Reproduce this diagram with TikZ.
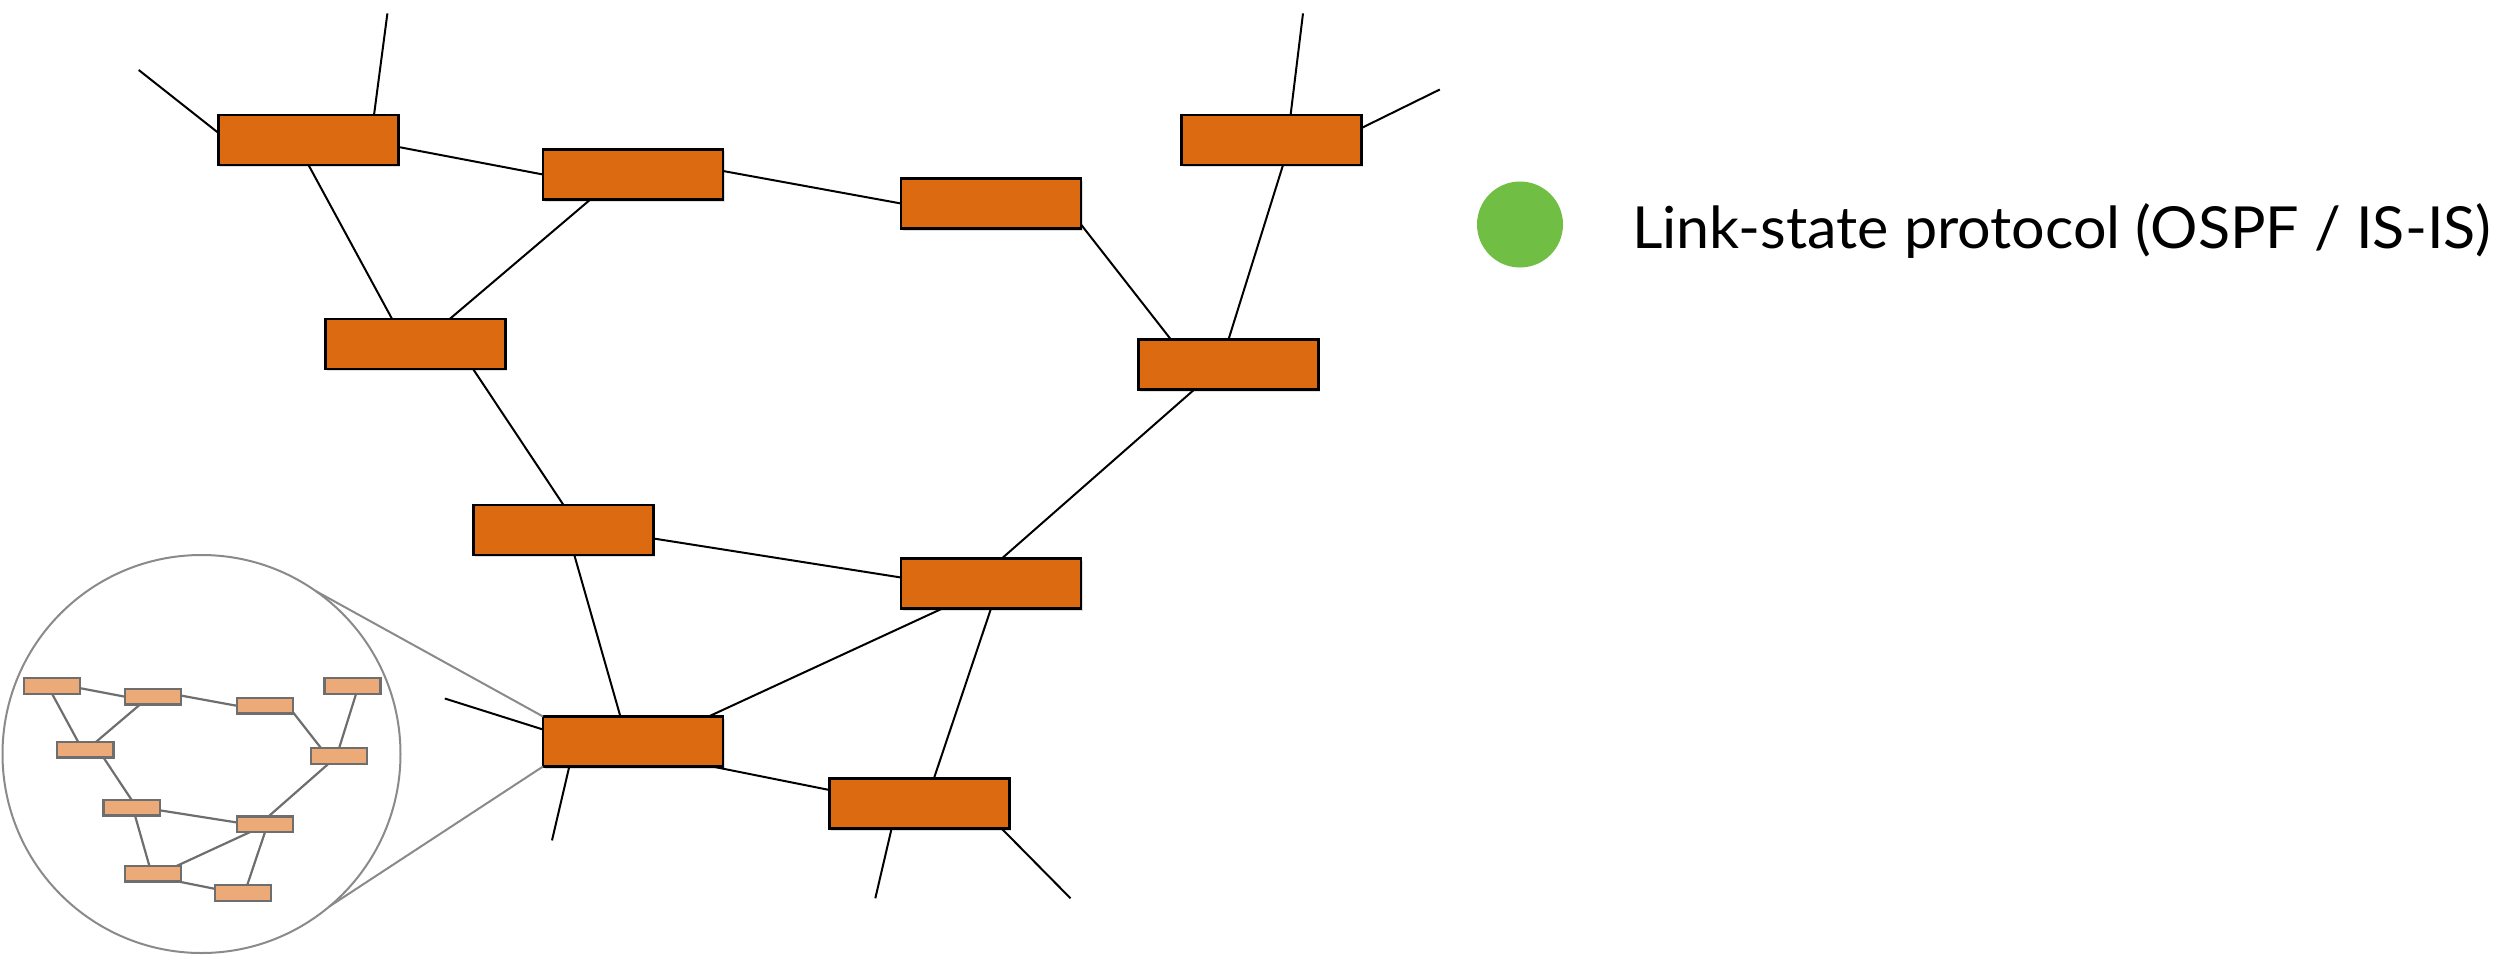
\documentclass[tikz,border=0pt]{standalone}
\usepackage{fontspec}
\setmainfont{Lato}
\usetikzlibrary{calc,shadows}
\definecolor{boxorange}{HTML}{DC6A11}
\definecolor{lightorange}{HTML}{EBAA78}
\definecolor{legendgreen}{HTML}{70BE44}
\definecolor{minigray}{HTML}{6E6E6E}
\definecolor{zoomgray}{HTML}{8A8A8A}
\tikzset{
  mainbox/.style={rectangle, draw=black, line width=2.6pt, fill=boxorange,
    minimum width=180pt, minimum height=50pt, inner sep=0pt, outer sep=0pt,
    drop shadow={shadow xshift=1.5pt, shadow yshift=-2pt, opacity=0.25}},
  minibox/.style={rectangle, draw=minigray, line width=2.2pt, fill=lightorange,
    minimum width=180pt, minimum height=50pt, inner sep=0pt, outer sep=0pt,
    drop shadow={shadow xshift=1pt, shadow yshift=-1pt, opacity=0.2}},
  mainedge/.style={draw=black, line width=2pt},
  miniedge/.style={draw=minigray, line width=2.2pt},
  zoomline/.style={draw=zoomgray, line width=2pt},
}
\newcommand\netnodes[2]{%
  \node[#2] (#1A) at (308.5,140) {};
  \node[#2] (#1B) at (633,174.5) {};
  \node[#2] (#1C) at (991,203.5) {};
  \node[#2] (#1D) at (1271.5,140) {};
  \node[#2] (#1E) at (415.5,344) {};
  \node[#2] (#1F) at (1228.5,364.5) {};
  \node[#2] (#1G) at (563.5,530) {};
  \node[#2] (#1H) at (991,583.5) {};
  \node[#2] (#1I) at (633,741.5) {};
  \node[#2] (#1J) at (919.5,803.5) {};
}
\newcommand\netedges[2]{%
  \draw[#2] ($(#1A.north east)!0.64!(#1A.south east)$) -- (#1B.west);
  \draw[#2] (#1A.south) -- ($(#1E.north west)!0.37!(#1E.north east)$);
  \draw[#2] ($(#1B.south west)!0.263!(#1B.south east)$) -- ($(#1E.north west)!0.69!(#1E.north east)$);
  \draw[#2] ($(#1B.north east)!0.43!(#1B.south east)$) -- (#1C.west);
  \draw[#2] ($(#1C.north east)!0.92!(#1C.south east)$) -- ($(#1F.north west)!0.18!(#1F.north east)$);
  \draw[#2] ($(#1D.south west)!0.564!(#1D.south east)$) -- (#1F.north);
  \draw[#2] ($(#1E.south west)!0.82!(#1E.south east)$) -- (#1G.north);
  \draw[#2] ($(#1F.south west)!0.31!(#1F.south east)$) -- ($(#1H.north west)!0.56!(#1H.north east)$);
  \draw[#2] ($(#1G.north east)!0.67!(#1G.south east)$) -- ($(#1H.north west)!0.38!(#1H.south west)$);
  \draw[#2] ($(#1G.south west)!0.56!(#1G.south east)$) -- ($(#1I.north west)!0.43!(#1I.north east)$);
  \draw[#2] ($(#1H.south west)!0.23!(#1H.south east)$) -- ($(#1I.north west)!0.92!(#1I.north east)$);
  \draw[#2] (#1H.south) -- ($(#1J.north west)!0.58!(#1J.north east)$);
  \draw[#2] ($(#1I.south west)!0.94!(#1I.south east)$) -- ($(#1J.north west)!0.23!(#1J.south west)$);
}
\begin{document}
\begin{tikzpicture}[x=1pt, y=-1pt]
  \useasboundingbox (0,0) rectangle (2500,955);
  % main network
  \netnodes{}{mainbox}
  \netedges{}{mainedge}
  % free ends of the outgoing links
  \coordinate (sA1) at (138.7,70);
  \coordinate (sA2) at (387.4,13.4);
  \coordinate (sD1) at (1303,13.4);
  \coordinate (sD2) at (1439.8,89.5);
  \coordinate (sI1) at (444.8,698.5);
  \coordinate (sI2) at (552,840.4);
  \coordinate (sJ1) at (875.3,898.3);
  \coordinate (sJ2) at (1070.5,898.3);
  \draw[mainedge] ($(A.north west)!0.36!(A.south west)$) -- (sA1);
  \draw[mainedge] ($(A.north west)!0.864!(A.north east)$) -- (sA2);
  \draw[mainedge] ($(D.north west)!0.606!(D.north east)$) -- (sD1);
  \draw[mainedge] ($(D.north east)!0.26!(D.south east)$) -- (sD2);
  \draw[mainedge] ($(I.north west)!0.26!(I.south west)$) -- (sI1);
  \draw[mainedge] ($(I.south west)!0.146!(I.south east)$) -- (sI2);
  \draw[mainedge] ($(J.south west)!0.345!(J.south east)$) -- (sJ1);
  \draw[mainedge] ($(J.south west)!0.956!(J.south east)$) -- (sJ2);
  % zoom circle
  \node[circle, draw=zoomgray, line width=2pt, minimum size=398pt, inner sep=0pt, outer sep=0pt] (zc) at (201.5,754) {};
  \draw[zoomline] (zc.55) -- (I.north west);
  \draw[zoomline] (zc.-50) -- (I.south west);
  % miniature network
  \begin{scope}[shift={(-44.2,642.3)}, scale=0.312, transform shape]
    \netnodes{m}{minibox}
    \netedges{m}{miniedge}
  \end{scope}
  % legend
  \node[circle, fill=legendgreen, minimum size=86pt, inner sep=0pt] (dot) at (1520,224.5) {};
  \node[anchor=base west, inner sep=0pt] (legend) at (1632,248.3)
    {\resizebox{859pt}{\height}{\fontsize{58}{60}\selectfont Link-state protocol (OSPF / IS-IS)}};
\end{tikzpicture}
\end{document}
